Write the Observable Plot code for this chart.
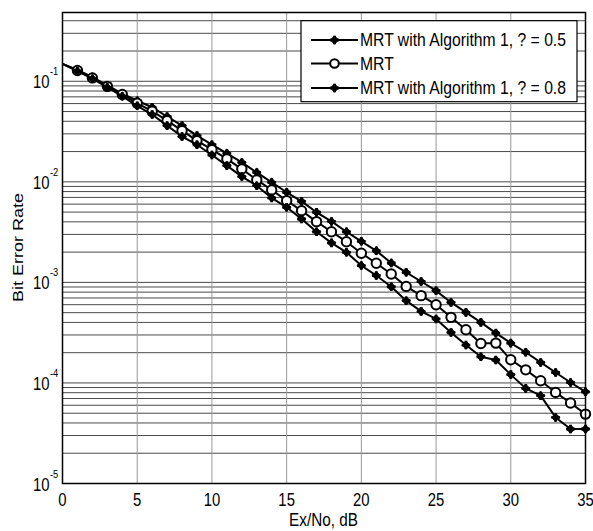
<!DOCTYPE html>
<html><head><meta charset="utf-8">
<script src="https://cdn.jsdelivr.net/npm/d3@7"></script>
<script src="https://cdn.jsdelivr.net/npm/@observablehq/plot@0.6"></script>
<style>body{margin:0;background:#fff} #chart{width:593px;height:531px;overflow:hidden}</style>
</head><body><div id="chart"></div>
<script>
const snr = [0,1,2,3,4,5,6,7,8,9,10,11,12,13,14,15,16,17,18,19,20,21,22,23,24,25,26,27,28,29,30,31,32,33,34,35];
const berAlg05 = [0.149,0.130,0.110,0.091,0.0755,0.064,0.0552,0.0446,0.0362,0.0288,0.0234,0.0192,0.0156,0.0124,0.00988,0.00787,0.0064,0.00498,0.00404,0.00319,0.00256,0.00206,0.00156,0.00126,0.00102,0.000827,0.000632,0.000503,0.0004,0.000313,0.000249,0.000202,0.00016,0.000127,0.000101,0.0000816];
const berMRT = [0.149,0.128,0.108,0.089,0.0738,0.0604,0.0504,0.0406,0.0323,0.0257,0.0209,0.0169,0.0134,0.01045,0.0083,0.0065,0.00516,0.00402,0.00319,0.00254,0.00195,0.00155,0.00121,0.000912,0.000738,0.0006,0.000449,0.000338,0.000247,0.000249,0.00017,0.000135,0.000105,0.0000805,0.0000631,0.000049];
const berAlg08 = [0.149,0.126,0.106,0.087,0.071,0.057,0.0467,0.0362,0.0282,0.0234,0.0185,0.0145,0.01128,0.00916,0.00692,0.00558,0.00427,0.00319,0.00247,0.00199,0.00147,0.00117,0.000906,0.000658,0.000515,0.000433,0.000318,0.000238,0.000182,0.000169,0.000121,0.0000883,0.0000747,0.0000454,0.0000348,0.0000348];
const seriesNames = ["MRT with Algorithm 1, ? = 0.5", "MRT", "MRT with Algorithm 1, ? = 0.8"];
const xTicks = [0,5,10,15,20,25,30,35];
const yDecades = [1e-5,1e-4,1e-3,1e-2,1e-1];
const yTop = 0.483;
const yMinor = yDecades.flatMap(d => [2,3,4,5,6,7,8,9].map(m => m*d)).filter(v => v <= yTop);

const rows = vals => snr.map((x,i) => ({x, y: vals[i]}));
const dA = rows(berAlg05), dM = rows(berMRT), dB = rows(berAlg08);
const marked = d => d.filter(p => p.x >= 1);
const font = "'Liberation Sans', Arial, Helvetica, sans-serif";
const SQ = 0.85;
const DR = 3.7, CR = 3.6;

const diamondMarks = d => [
  Plot.dot(marked(d), {x:"x", y:"y", symbol:"diamond2", r:DR, fill:"black", stroke:"black", strokeWidth:1}),
  Plot.dot(marked(d), {x:"x", y:"y", symbol:"cross", r:CR, fill:"black"})
];

const svg = Plot.plot({
  width: 593, height: 531,
  marginLeft: 62, marginRight: 8, marginTop: 12, marginBottom: 48,
  style: {fontFamily: font, background: "white", color: "black"},
  x: {domain: [0,35], axis: null},
  y: {type: "log", domain: [1e-5, yTop], axis: null},
  marks: [
    Plot.ruleY([...yMinor, ...yDecades.slice(1)], {stroke: "#4a4a4a", strokeWidth: 1}),
    Plot.ruleX(xTicks.slice(1,-1), {stroke: "#999", strokeWidth: 1}),
    Plot.line(dA, {x:"x", y:"y", stroke:"black", strokeWidth:2, clip:true}),
    ...diamondMarks(dA),
    Plot.line(dM, {x:"x", y:"y", stroke:"black", strokeWidth:2, clip:true}),
    Plot.dot(marked(dM), {x:"x", y:"y", symbol:"circle", r:4.7, fill:"white", stroke:"black", strokeWidth:2}),
    Plot.line(dB, {x:"x", y:"y", stroke:"black", strokeWidth:2, clip:true}),
    ...diamondMarks(dB),
    Plot.frame({stroke:"black", strokeWidth:1.5}),
    Plot.axisX({ticks: xTicks, tickSize: 0, tickPadding: 10, fontSize: 17.5, label: null, tickFormat: d => String(d)}),
    Plot.text(yDecades, {y: d => d, frameAnchor: "left", text: () => "10", textAnchor: "end", dx: -13, dy: 1.5, fontSize: 17.5}),
    Plot.text(yDecades, {y: d => d, frameAnchor: "left", text: d => String(Math.round(Math.log10(d))), textAnchor: "start", dx: -12.5, dy: -9.5, fontSize: 11})
  ]
});

// horizontal squeeze of text, as in the reference
d3.select(svg).selectAll("text").each(function() {
  const x = +(this.getAttribute("x") || 0);
  const t = this.getAttribute("transform") || "";
  this.setAttribute("transform", `${t} translate(${x},0) scale(${SQ},1) translate(${-x},0)`);
});

const s = d3.select(svg);
s.append("text").attr("transform", `translate(323.5,526) scale(${SQ},1)`)
  .attr("text-anchor","middle").attr("font-size",18).attr("font-family",font).attr("fill","black").text("Ex/No, dB");
s.append("text").attr("transform", `translate(22.5,247.5) rotate(-90) scale(1,${SQ})`)
  .attr("text-anchor","middle").attr("font-size",18).attr("font-family",font).attr("fill","black").text("Bit Error Rate");

// legend
const lg = s.append("g");
lg.append("rect").attr("x",301).attr("y",20.7).attr("width",276).attr("height",81)
  .attr("fill","white").attr("stroke","black").attr("stroke-width",1.2);
const ly = [40, 63.5, 88];
seriesNames.forEach((name, i) => {
  const y = ly[i];
  lg.append("line").attr("x1",311).attr("x2",358).attr("y1",y).attr("y2",y).attr("stroke","black").attr("stroke-width",2);
  const g = lg.append("g").attr("transform", `translate(334.5,${y})`);
  if (i === 1) {
    g.append("circle").attr("r",4.3).attr("fill","white").attr("stroke","black").attr("stroke-width",2);
  } else {
    g.append("path").attr("d", d3.symbol(d3.symbolDiamond2, Math.PI*DR*DR)()).attr("fill","black").attr("stroke","black").attr("stroke-width",1);
    g.append("path").attr("d", d3.symbol(d3.symbolCross, Math.PI*CR*CR)()).attr("fill","black");
  }
  lg.append("text").attr("transform", `translate(360,${y+6.3}) scale(${SQ},1)`)
    .attr("text-anchor","start").attr("font-size",18.5).attr("font-family",font).attr("fill","black").text(name);
});

document.getElementById("chart").appendChild(svg);
</script>
</body></html>
